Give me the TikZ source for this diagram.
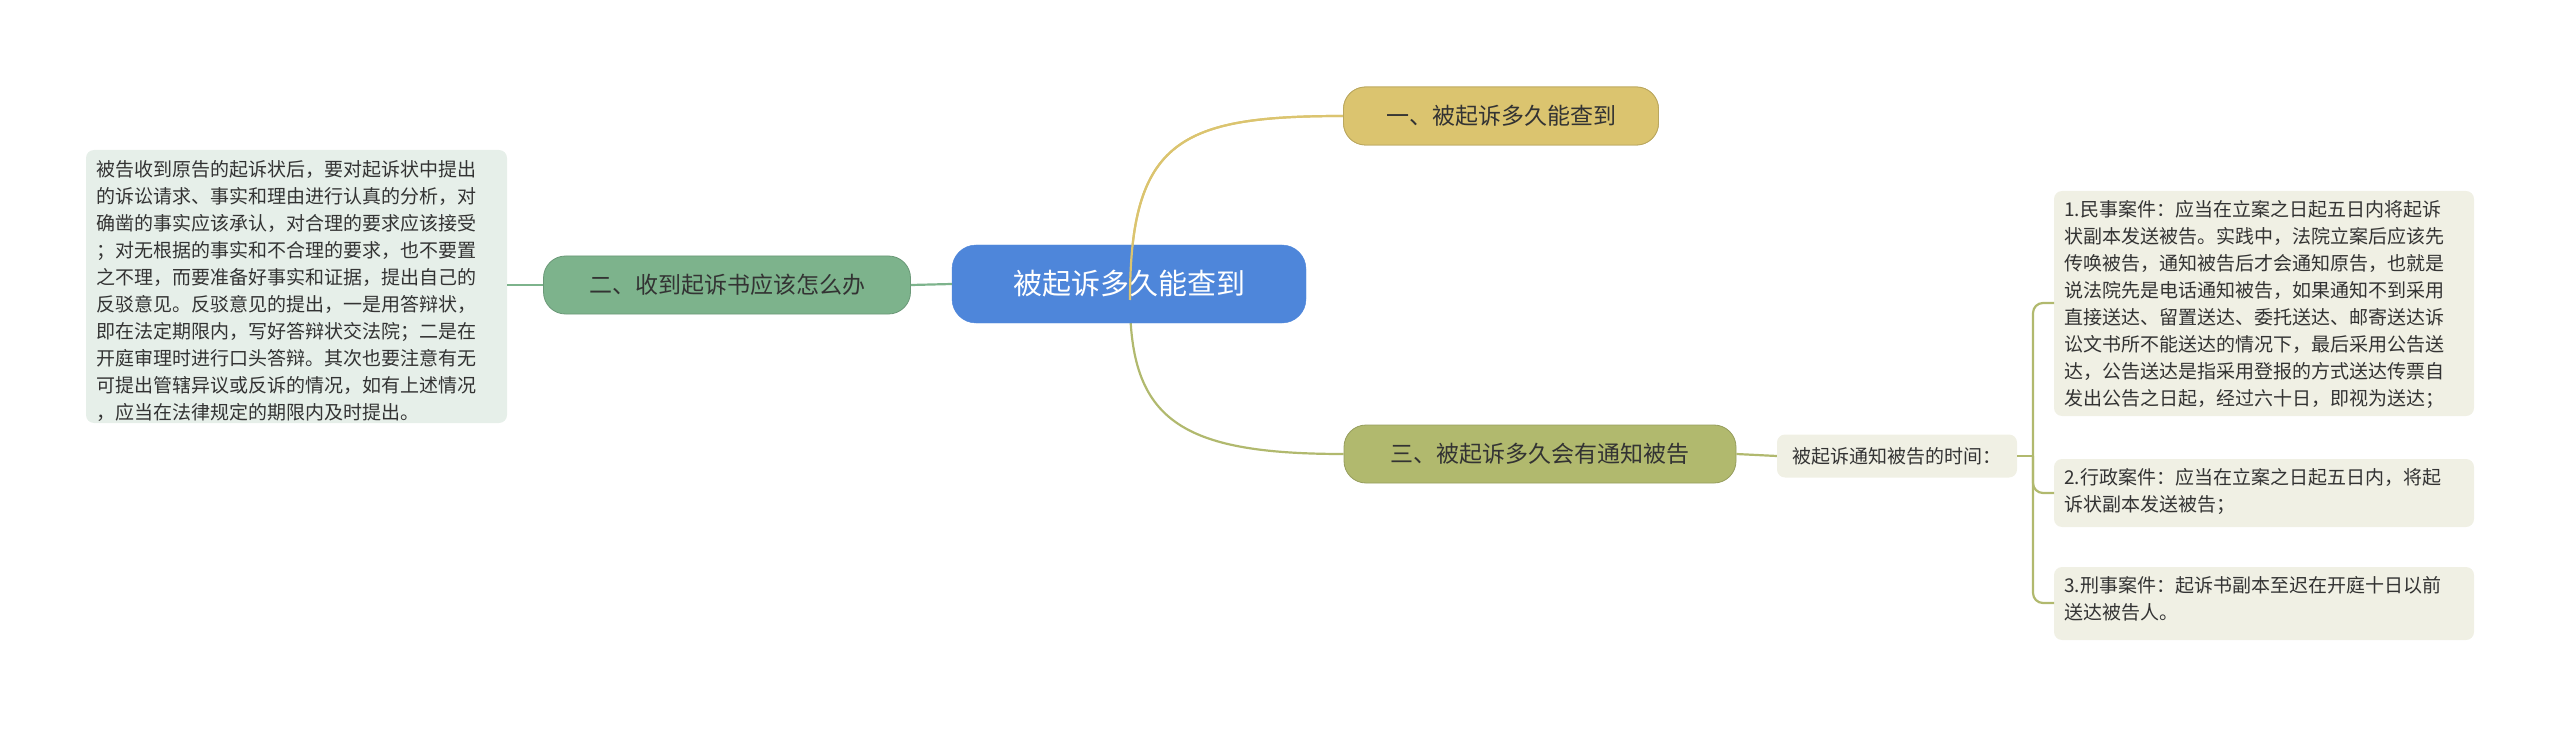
\documentclass[tikz,border=0pt]{standalone}
\usepackage{fontspec}
\setmainfont{Noto Sans CJK SC}
\begin{document}
\begin{tikzpicture}[x=1pt,y=-1pt,
  mainbox/.style={rounded corners=24pt,minimum height=78pt,minimum width=354pt,fill=blue1,draw=blue1,text=white,font=\fontsize{29}{34}\selectfont},
  topic/.style={rounded corners=22pt,minimum height=58pt,font=\fontsize{23}{28}\selectfont,text=txt,draw=#1!85!black,fill=#1,line width=0.8pt},
  leaf/.style={rounded corners=8pt,fill=#1,align=left,anchor=north west,inner sep=0pt,text=txt,font=\fontsize{19}{27}\selectfont},
  ln/.style={line width=2.2pt,draw=#1}]
\definecolor{blue1}{HTML}{4E86DA}
\definecolor{gold}{HTML}{DBC46F}
\definecolor{grn}{HTML}{7DB38C}
\definecolor{olv}{HTML}{B1B96E}
\definecolor{txt}{HTML}{333333}
\definecolor{lgreen}{HTML}{E6EFE9}
\definecolor{lolv}{HTML}{F0F0E4}
\useasboundingbox (0,0) rectangle (2560,730);
% connectors
\coordinate (c1) at (1130,300);
\node[topic=gold,minimum width=315pt] (n1) at (1501,116) {一、被起诉多久能查到};
\node[topic=grn,minimum width=367pt] (n2) at (727,285) {二、收到起诉书应该怎么办};
\node[topic=olv,minimum width=392pt] (n3) at (1540,454) {三、被起诉多久会有通知被告};
\draw[ln=gold] (c1) .. controls (1130,140) and (1180,116) .. (n1.west);
\draw[ln=olv] (c1) .. controls (1130,420) and (1180,454) .. (n3.west);
\node[mainbox] (c) at (1129,284) {被起诉多久能查到};
\draw[ln=grn] (c.west) -- (n2.east);
\draw[ln=gold] (c1) .. controls (1130,140) and (1180,116) .. (n1.west);
\node[topic=gold,minimum width=315pt] at (1501,116) {一、被起诉多久能查到};
% left text box
\fill[lgreen,rounded corners=8pt] (86,150) rectangle (507,423);
\node[leaf=lgreen] (lb) at (96,160) {被告收到原告的起诉状后，要对起诉状中提出\\的诉讼请求、事实和理由进行认真的分析，对\\确凿的事实应该承认，对合理的要求应该接受\\；对无根据的事实和不合理的要求，也不要置\\之不理，而要准备好事实和证据，提出自己的\\反驳意见。反驳意见的提出，一是用答辩状，\\即在法定期限内，写好答辩状交法院；二是在\\开庭审理时进行口头答辩。其次也要注意有无\\可提出管辖异议或反诉的情况，如有上述情况\\，应当在法律规定的期限内及时提出。};
\coordinate (lbe) at (507,285);
\draw[ln=grn] (n2.west) -- (lbe);
% sub node
\node[rounded corners=8pt,fill=lolv,minimum width=240pt,minimum height=43pt,text=txt,font=\fontsize{19}{24}\selectfont] (s) at (1897,456) {被起诉通知被告的时间：};
\draw[ln=olv] (n3.east) -- (s.west);
% right boxes
\fill[lolv,rounded corners=8pt] (2054,191) rectangle (2474,416);
\fill[lolv,rounded corners=8pt] (2054,459) rectangle (2474,527);
\fill[lolv,rounded corners=8pt] (2054,567) rectangle (2474,640);
\node[leaf=lolv] (r1) at (2064,200) {1.民事案件：应当在立案之日起五日内将起诉\\状副本发送被告。实践中，法院立案后应该先\\传唤被告，通知被告后才会通知原告，也就是\\说法院先是电话通知被告，如果通知不到采用\\直接送达、留置送达、委托送达、邮寄送达诉\\讼文书所不能送达的情况下，最后采用公告送\\达，公告送达是指采用登报的方式送达传票自\\发出公告之日起，经过六十日，即视为送达；};
\node[leaf=lolv] (r2) at (2064,468) {2.行政案件：应当在立案之日起五日内，将起\\诉状副本发送被告；};
\node[leaf=lolv] (r3) at (2064,576) {3.刑事案件：起诉书副本至迟在开庭十日以前\\送达被告人。};
\coordinate (b1) at (2054,303);
\coordinate (b2) at (2054,493);
\coordinate (b3) at (2054,603);
\draw[ln=olv,rounded corners=10pt] (b1) -- (2033,303) -- (2033,603) -- (b3);
\draw[ln=olv] (s.east) -- (2033,456);
\draw[ln=olv,rounded corners=10pt] (2033,456) -- (2033,493) -- (b2);
\end{tikzpicture}
\end{document}
